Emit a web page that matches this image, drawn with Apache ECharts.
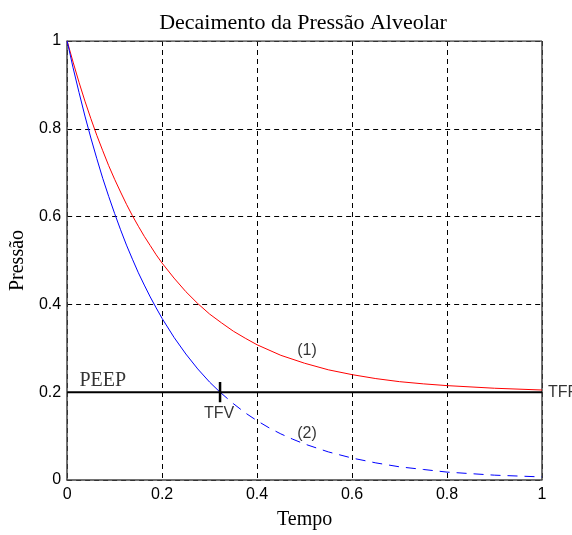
<!DOCTYPE html>
<html>
<head>
<meta charset="utf-8">
<script src="https://cdn.jsdelivr.net/npm/echarts@6/dist/echarts.min.js"></script>
<style>
html,body{margin:0;padding:0;background:#fff;}
#chart{width:572px;height:535px;}
</style>
</head>
<body>
<div id="chart"></div>
<script>
// Values
var xTicks = [0, 0.2, 0.4, 0.6, 0.8, 1];
var yTicks = [0, 0.2, 0.4, 0.6, 0.8, 1];

var timeRed = [0, 0.0125, 0.025, 0.0375, 0.05, 0.0625, 0.075, 0.0875, 0.1, 0.1125, 0.125, 0.1375, 0.15, 0.1625, 0.175, 0.1875, 0.2, 0.225, 0.25, 0.275, 0.3, 0.325, 0.35, 0.375, 0.4, 0.45, 0.5, 0.55, 0.6, 0.65, 0.7, 0.75, 0.8, 0.9, 1.0];
var pressureRed = [1, 0.952, 0.906, 0.863, 0.823, 0.785, 0.750, 0.716, 0.685, 0.656, 0.628, 0.602, 0.578, 0.555, 0.534, 0.513, 0.494, 0.460, 0.429, 0.402, 0.378, 0.358, 0.339, 0.323, 0.308, 0.284, 0.266, 0.251, 0.240, 0.231, 0.224, 0.219, 0.215, 0.209, 0.205];

var timeBlueSolid = [0, 0.0125, 0.025, 0.0375, 0.05, 0.0625, 0.075, 0.0875, 0.1, 0.1125, 0.125, 0.1375, 0.15, 0.1625, 0.175, 0.1875, 0.2, 0.225, 0.25, 0.275, 0.3, 0.322];
var pressureBlueSolid = [1, 0.939, 0.883, 0.829, 0.779, 0.732, 0.687, 0.646, 0.607, 0.570, 0.535, 0.503, 0.472, 0.444, 0.417, 0.392, 0.368, 0.325, 0.287, 0.253, 0.223, 0.200];

var timeBlueDashed = [0.322, 0.35, 0.375, 0.4, 0.425, 0.45, 0.475, 0.5, 0.55, 0.6, 0.65, 0.7, 0.75, 0.8, 0.9, 1.0];
var pressureBlueDashed = [0.200, 0.174, 0.153, 0.135, 0.119, 0.105, 0.093, 0.082, 0.064, 0.050, 0.039, 0.030, 0.024, 0.018, 0.011, 0.007];

var peepLevel = 0.2;
var peepRange = [0, 1];
var tfvTime = 0.322;
var tfvTickHalf = 0.023;

// annotation texts and their data anchors
var annoText = ['PEEP', 'TFV', '(1)', '(2)', 'TFR'];
var annoX = [0.075, 0.320, 0.505, 0.505, 1.0];
var annoY = [0.225, 0.152, 0.295, 0.105, 0.2];

function pairs(xs, ys) { return xs.map(function (x, i) { return [x, ys[i]]; }); }

var serif = '"Liberation Serif", "Times New Roman", serif';
var sans = '"Liberation Sans", Arial, sans-serif';

var annoData = annoText.map(function (t, i) {
  var isSerif = (t === 'PEEP');
  var item = {
    value: [annoX[i], annoY[i]],
    label: {
      show: true,
      formatter: t,
      fontFamily: isSerif ? serif : sans,
      fontSize: isSerif ? 20 : 16,
      color: '#000',
      position: 'inside'
    }
  };
  if (t === 'TFR') {
    item.label.position = 'right';
    item.label.distance = 6;
  }
  return item;
});

var chart = echarts.init(document.getElementById('chart'), null, { renderer: 'canvas' });
chart.setOption({
  animation: false,
  backgroundColor: '#fff',
  title: {
    text: 'Decaimento da Pressão Alveolar',
    left: 298,
    top: 7,
    textAlign: 'center',
    textStyle: { fontFamily: serif, fontSize: 22, fontWeight: 'normal', color: '#000' }
  },
  grid: { left: 65, right: 30, top: 41, bottom: 52, containLabel: false },
  xAxis: {
    type: 'value', min: 0, max: 1, interval: 0.2,
    name: 'Tempo', nameLocation: 'middle', nameGap: 30,
    nameTextStyle: { fontFamily: serif, fontSize: 20, color: '#000' },
    axisLine: { show: true, onZero: false, lineStyle: { color: '#444', width: 1.5 } },
    axisTick: { show: false },
    axisLabel: {
      fontFamily: sans, fontSize: 16, color: '#000', margin: 7,
      formatter: function (v) { return xTicks.indexOf(Math.round(v * 10) / 10) >= 0 ? String(Math.round(v * 10) / 10) : ''; }
    },
    splitLine: { show: true, lineStyle: { color: '#000', width: 1, type: [5, 4] } }
  },
  yAxis: {
    type: 'value', min: 0, max: 1, interval: 0.2,
    name: 'Pressão', nameLocation: 'middle', nameGap: 33,
    nameTextStyle: { fontFamily: serif, fontSize: 20, color: '#000' },
    axisLine: { show: true, onZero: false, lineStyle: { color: '#444', width: 1.5 } },
    axisTick: { show: false },
    axisLabel: {
      fontFamily: sans, fontSize: 16, color: '#000', margin: 6,
      formatter: function (v) { return yTicks.indexOf(Math.round(v * 10) / 10) >= 0 ? String(Math.round(v * 10) / 10) : ''; }
    },
    splitLine: { show: true, lineStyle: { color: '#000', width: 1, type: [5, 4] } }
  },
  series: [
    {
      type: 'line', name: 'top', data: [[0, 1], [1, 1]], symbol: 'none',
      lineStyle: { color: '#444', width: 1.5 }, silent: true, z: 1
    },
    {
      type: 'line', name: 'right', data: [[1, 0], [1, 1]], symbol: 'none',
      lineStyle: { color: '#444', width: 1.5 }, silent: true, z: 1
    },
    {
      type: 'line', name: '(1)', data: pairs(timeRed, pressureRed), symbol: 'none',
      lineStyle: { color: '#ff0000', width: 1 }, z: 3
    },
    {
      type: 'line', name: '(2) solid', data: pairs(timeBlueSolid, pressureBlueSolid), symbol: 'none',
      lineStyle: { color: '#0000ff', width: 1 }, z: 3
    },
    {
      type: 'line', name: '(2) dashed', data: pairs(timeBlueDashed, pressureBlueDashed), symbol: 'none',
      lineStyle: { color: '#0000ff', width: 1, type: [10, 7] }, z: 3
    },
    {
      type: 'line', name: 'PEEP', data: [[peepRange[0], peepLevel], [peepRange[1], peepLevel]], symbol: 'none',
      lineStyle: { color: '#000', width: 2 }, z: 4
    },
    {
      type: 'line', name: 'TFV tick', data: [[tfvTime, peepLevel - tfvTickHalf], [tfvTime, peepLevel + tfvTickHalf]], symbol: 'none',
      lineStyle: { color: '#000', width: 2.5 }, z: 4
    },
    {
      type: 'scatter', name: 'labels', data: annoData, symbolSize: 0, clip: false, silent: true, z: 5
    }
  ]
});
</script>
</body>
</html>
